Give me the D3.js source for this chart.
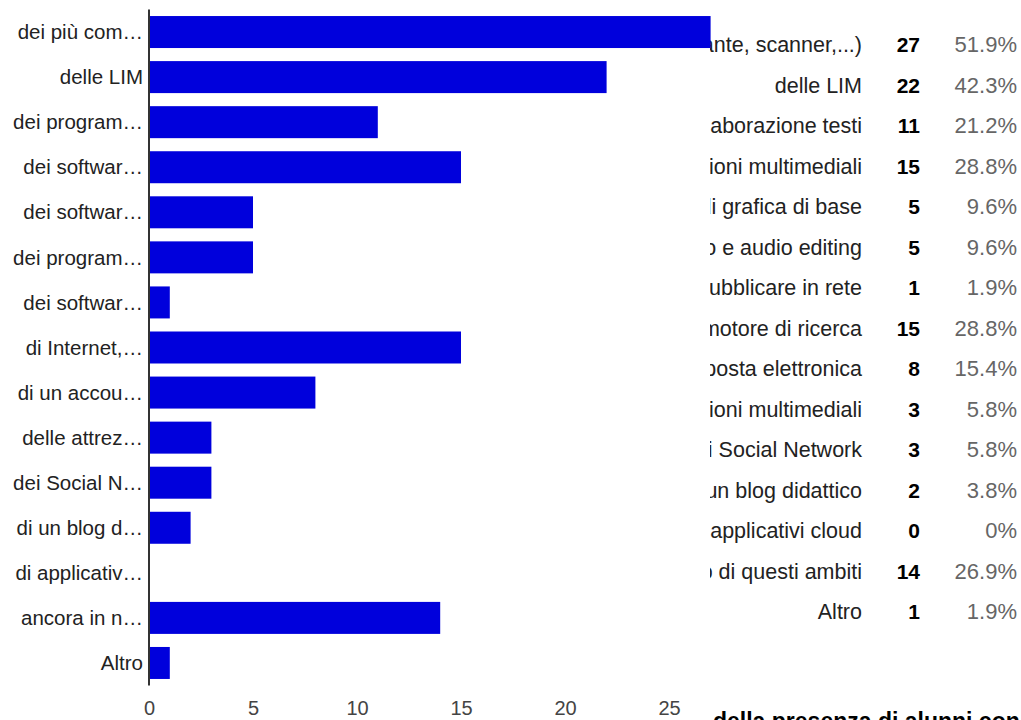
<!DOCTYPE html>
<html><head><meta charset="utf-8">
<script src="https://cdn.jsdelivr.net/npm/d3@7"></script>
<style>body{margin:0;background:#fff;overflow:hidden}svg{display:block;font-family:"Liberation Sans",Arial,sans-serif}</style>
</head><body>
<svg id="c" width="1021" height="720"></svg>
<script>
const shortLabels = ["dei più com…","delle LIM","dei program…","dei softwar…","dei softwar…","dei program…","dei softwar…","di Internet,…","di un accou…","delle attrez…","dei Social N…","di un blog d…","di applicativ…","ancora in n…","Altro"];
const fullLabels = ["dei più comuni dispositivi periferici (stampante, scanner,...)","delle LIM","dei programmi di elaborazione testi","dei software per presentazioni multimediali","dei software di grafica di base","dei programmi di video e audio editing","dei software per pubblicare in rete","di Internet, come motore di ricerca","di un account di posta elettronica","delle attrezzature per le comunicazioni multimediali","dei Social Network","di un blog didattico","di applicativi cloud","ancora in nessuno di questi ambiti","Altro"];
const counts = [27,22,11,15,5,5,1,15,8,3,3,2,0,14,1];
const percents = ["51.9%","42.3%","21.2%","28.8%","9.6%","9.6%","1.9%","28.8%","15.4%","5.8%","5.8%","3.8%","0%","26.9%","1.9%"];
const xTicks = [0,5,10,15,20,25];
const footerText = "della presenza di alunni con disabilità";

const svg = d3.select("#c");
const idx = d3.range(counts.length);

// table (behind the chart)
const rowY = d3.scaleLinear().domain([0,14]).range([52,619]);
const table = svg.append("g");
table.selectAll("text.lab").data(idx).join("text").attr("class","lab")
  .attr("x",862).attr("y",i=>rowY(i)).attr("text-anchor","end")
  .attr("font-size",21.5).attr("fill","#222").text(i=>fullLabels[i]);
table.selectAll("text.cnt").data(idx).join("text").attr("class","cnt")
  .attr("x",920).attr("y",i=>rowY(i)).attr("text-anchor","end")
  .attr("font-size",21).attr("font-weight","bold").attr("fill","#000").text(i=>counts[i]);
table.selectAll("text.pct").data(idx).join("text").attr("class","pct")
  .attr("x",1017).attr("y",i=>rowY(i)).attr("text-anchor","end")
  .attr("font-size",22).attr("fill","#666").text(i=>percents[i]);
svg.append("text").attr("x",713).attr("y",729).attr("font-size",23)
  .attr("font-weight","bold").attr("fill","#000").text(footerText);

// chart (white background covering left part of table)
svg.append("rect").attr("x",0).attr("y",0).attr("width",710).attr("height",695).attr("fill","#fff");

const x = d3.scaleLinear().domain([0,25]).range([149,669]);
const y = d3.scaleBand().domain(idx).range([9.5,685.5]).paddingInner(0.29).paddingOuter(0.145);

svg.append("g").selectAll("rect").data(idx).join("rect")
  .attr("x",x(0)).attr("y",i=>y(i)).attr("height",y.bandwidth())
  .attr("width",i=>x(counts[i])-x(0)).attr("fill","#0000dc");

svg.append("line").attr("x1",x(0)).attr("x2",x(0)).attr("y1",9.5).attr("y2",685.5)
  .attr("stroke","#333").attr("stroke-width",2);

svg.append("g").selectAll("text").data(idx).join("text")
  .attr("x",143).attr("y",i=>y(i)+y.bandwidth()/2).attr("dy","0.35em")
  .attr("text-anchor","end").attr("font-size",20.5).attr("fill","#222").text(i=>shortLabels[i]);

const xAxis = d3.axisBottom(x).tickValues(xTicks).tickSize(0).tickPadding(0);
const gx = svg.append("g").attr("transform","translate(0,701)").call(xAxis);
gx.select(".domain").remove();
gx.selectAll("text").attr("font-size",20).attr("fill","#444")
  .attr("font-family","Liberation Sans, Arial, sans-serif").attr("dy","0.71em");
</script>
</body></html>
